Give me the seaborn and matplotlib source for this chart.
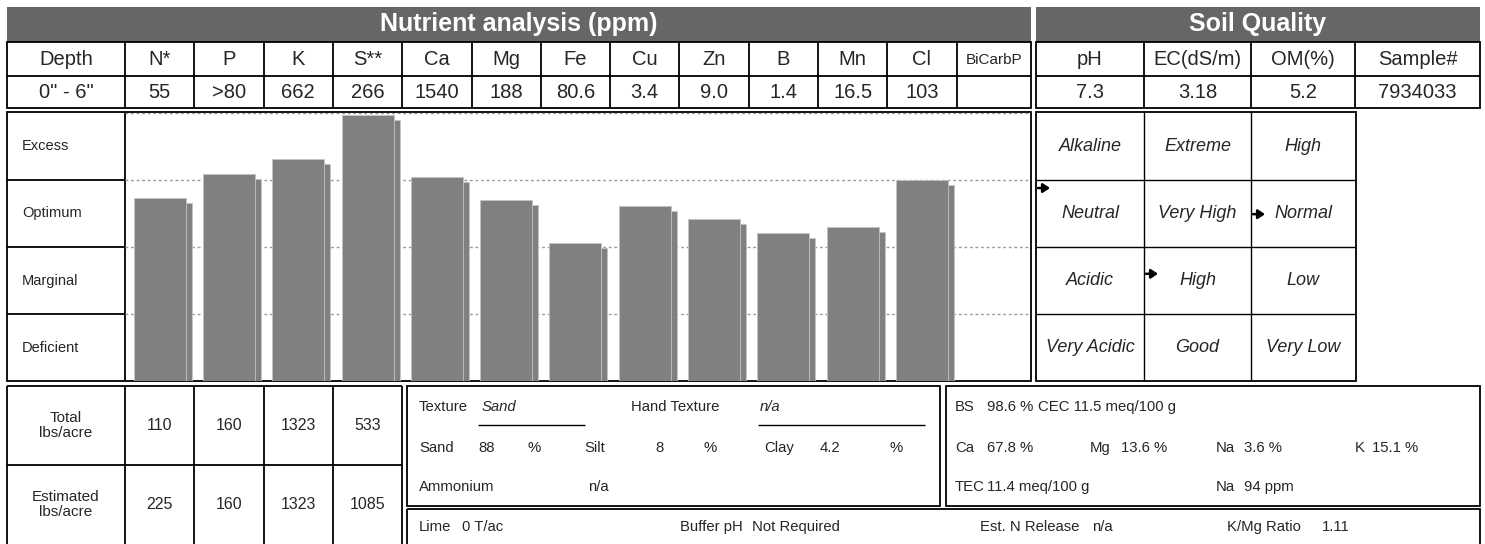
import numpy as np
import pandas as pd
import seaborn as sns
import matplotlib
matplotlib.use("Agg")
import matplotlib.pyplot as plt
from matplotlib.patches import Rectangle

# ---- data ----
nutrients = ["N*", "P", "K", "S**", "Ca", "Mg", "Fe", "Cu", "Zn", "B", "Mn", "Cl"]
ppm_values = ["55", ">80", "662", "266", "1540", "188", "80.6", "3.4", "9.0", "1.4", "16.5", "103"]
depth = '0" - 6"'
# bar height in rating units: 0-1 Deficient, 1-2 Marginal, 2-3 Optimum, 3-4 Excess
rating_levels = [2.73, 3.09, 3.31, 3.97, 3.04, 2.70, 2.06, 2.61, 2.42, 2.21, 2.30, 3.00]
rating_bands = ["Deficient", "Marginal", "Optimum", "Excess"]

soil_headers = ["pH", "EC(dS/m)", "OM(%)", "Sample#"]
soil_values = ["7.3", "3.18", "5.2", "7934033"]
ph_scale = ["Very Acidic", "Acidic", "Neutral", "Alkaline"]
ec_scale = ["Good", "High", "Very High", "Extreme"]
om_scale = ["Very Low", "Low", "Normal", "High"]
arrow_levels = [2.88, 1.60, 2.49]  # pH, EC, OM pointers

lbs_labels = ["Total\nlbs/acre", "Estimated\nlbs/acre"]
total_lbs = ["110", "160", "1323", "533"]
estimated_lbs = ["225", "160", "1323", "1085"]

texture = "Sand"
hand_texture = "n/a"
sand_pct, silt_pct, clay_pct = "88", "8", "4.2"
ammonium = "n/a"
lime, buffer_ph, n_release, kmg_ratio = "0 T/ac", "Not Required", "n/a", "1.11"
bs, cec, tec = "98.6 %", "11.5 meq/100 g", "11.4 meq/100 g"
ca_pct, mg_pct, na_pct, k_pct = "67.8 %", "13.6 %", "3.6 %", "15.1 %"
na_ppm = "94 ppm"

# ---- layout (pixels) ----
W, H = 1485, 544
BAND = 67.0
CH_TOP, CH_BOT = 381 - 4 * BAND, 381
COLW = 69.3
col_x = [7, 125] + [125 + COLW * k for k in range(1, 13)] + [1031]
soil_x = [1036, 1144, 1251, 1355, 1480]
GRAY = "#666666"
BAR = "#808080"
SMALL = 10.7

sns.set_style("white")
plt.rcParams["font.family"] = ["Liberation Sans", "DejaVu Sans"]

fig = plt.figure(figsize=(W / 100, H / 100), dpi=100)
bg = fig.add_axes([0, 0, 1, 1])
bg.set_xlim(0, W)
bg.set_ylim(H, 0)
bg.set_axis_off()


def hline(x0, x1, y, lw=1.3, **kw):
    bg.plot([x0, x1], [y, y], color=kw.pop("color", "black"), lw=lw, solid_capstyle="butt", **kw)


def vline(x, y0, y1, lw=1.3, **kw):
    bg.plot([x, x], [y0, y1], color=kw.pop("color", "black"), lw=lw, solid_capstyle="butt", **kw)


def box(x0, y0, x1, y1, lw=1.3):
    bg.add_patch(Rectangle((x0, y0), x1 - x0, y1 - y0, fill=False, ec="black", lw=lw))


def put(x, y, s, size=14.5, ha="center", **kw):
    bg.text(x, y, s, fontsize=size, ha=ha, va="center", **kw)


# header bands
bg.add_patch(Rectangle((7, 7), 1031 - 7, 35, color=GRAY, lw=0))
bg.add_patch(Rectangle((1036, 7), 1480 - 1036, 35, color=GRAY, lw=0))
put(519, 24.5, "Nutrient analysis (ppm)", size=18, color="white", fontweight="bold")
put(1258, 24.5, "Soil Quality", size=18, color="white", fontweight="bold")

# nutrient header table
box(7, 42, 1031, 108)
hline(7, 1031, 76)
for x in col_x[1:-1]:
    vline(x, 42, 108)
heads = ["Depth"] + nutrients + ["BiCarbP"]
vals = [depth] + ppm_values + [""]
for i, (h, v) in enumerate(zip(heads, vals)):
    cx = (col_x[i] + col_x[i + 1]) / 2
    put(cx, 59.5, h, size=11 if h == "BiCarbP" else 14.5)
    put(cx, 92.5, v)

# soil header table
box(1036, 42, 1480, 108)
hline(1036, 1480, 76)
for x in soil_x[1:-1]:
    vline(x, 42, 108)
for i, (h, v) in enumerate(zip(soil_headers, soil_values)):
    cx = (soil_x[i] + soil_x[i + 1]) / 2
    put(cx, 59.5, h)
    put(cx, 92.5, v)

# rating label column + chart frame
box(7, CH_TOP - 1, 1031, CH_BOT)
vline(125, CH_TOP - 1, CH_BOT)
for k, name in enumerate(rating_bands):
    yc = CH_BOT - (k + 0.5) * BAND
    put(22, yc, name, size=10.5, ha="left")
    if k > 0:
        hline(7, 125, CH_BOT - k * BAND)

# soil quality scale grid
box(1036, CH_TOP - 1, 1356, CH_BOT)
for x in soil_x[1:3]:
    vline(x, CH_TOP - 1, CH_BOT, lw=1.0)
for k in range(1, 4):
    hline(1036, 1356, CH_BOT - k * BAND, lw=1.0)
for j, scale in enumerate([ph_scale, ec_scale, om_scale]):
    cx = (soil_x[j] + soil_x[j + 1]) / 2
    for k, name in enumerate(scale):
        put(cx, CH_BOT - (k + 0.5) * BAND, name, size=13, style="italic")
    ya = CH_BOT - arrow_levels[j] * BAND
    bg.annotate("", xy=(soil_x[j] + 14, ya), xytext=(soil_x[j] + 2, ya),
                arrowprops=dict(arrowstyle="-|>,head_length=0.45,head_width=0.3",
                                color="black", lw=1.8, mutation_scale=9,
                                shrinkA=0, shrinkB=0))

# bar chart on its own axes
ax = fig.add_axes([125 / W, 1 - CH_BOT / H, 906 / W, 4 * BAND / H])
df = pd.DataFrame({"nutrient": nutrients, "level": rating_levels})
for lvl in [1, 2, 3, 4]:
    ax.axhline(lvl, color="#9a9a9a", lw=1.0, ls=(0, (2, 2)), zorder=1)
sns.barplot(data=df, x="nutrient", y="level", order=nutrients, color=BAR,
            saturation=1, width=0.75, errorbar=None, ax=ax, zorder=3,
            edgecolor="#c4c4c4", linewidth=0.6)
pos = np.arange(len(nutrients))
ax.bar(pos + 6 / COLW, df["level"] - 5 / BAND, width=0.75, color=BAR,
       edgecolor="#c4c4c4", linewidth=0.6, zorder=2)
ax.set_xlim(-0.5, 11.5 + (1031 - col_x[13]) / COLW)
ax.set_ylim(0, 4)
ax.set_axis_off()

# bottom-left lbs/acre table
LB_TOP, LB_MID = 386, 465
for x in [7] + col_x[1:6]:
    vline(x, LB_TOP, H)
hline(7, col_x[5], LB_TOP)
hline(7, col_x[5], LB_MID)
rows_y = [(LB_TOP + LB_MID) / 2, (LB_MID + H) / 2]
for r, (lab, nums) in enumerate(zip(lbs_labels, [total_lbs, estimated_lbs])):
    put(66, rows_y[r], lab, size=11, linespacing=1.15)
    for i, n in enumerate(nums):
        put((col_x[i + 1] + col_x[i + 2]) / 2, rows_y[r], n, size=11.5)

# texture box
box(407, LB_TOP, 940, 506)
r1, r2, r3 = 407, 448, 487
put(419, r1, "Texture", size=SMALL, ha="left")
put(482, r1, texture, size=SMALL, ha="left", style="italic")
hline(478, 585, 425, lw=1.0)
put(631, r1, "Hand Texture", size=SMALL, ha="left")
put(760, r1, hand_texture, size=SMALL, ha="left", style="italic")
hline(758, 925, 425, lw=1.0)
for x, s in [(419, "Sand"), (478, sand_pct), (528, "%"), (584, "Silt"), (655, silt_pct),
             (704, "%"), (764, "Clay"), (820, clay_pct), (889, "%")]:
    put(x, r2, s, size=SMALL, ha="left")
put(419, r3, "Ammonium", size=SMALL, ha="left")
put(588, r3, ammonium, size=SMALL, ha="left")

# exchange box
box(946, LB_TOP, 1480, 506)
for x, s in [(955, "BS"), (987, bs), (1038, "CEC " + cec)]:
    put(x, r1, s, size=SMALL, ha="left")
for x, s in [(955, "Ca"), (987, ca_pct), (1090, "Mg"), (1121, mg_pct),
             (1216, "Na"), (1244, na_pct), (1355, "K"), (1372, k_pct)]:
    put(x, r2, s, size=SMALL, ha="left")
for x, s in [(955, "TEC"), (987, tec), (1216, "Na"), (1244, na_ppm)]:
    put(x, r3, s, size=SMALL, ha="left")

# bottom strip
box(407, 509, 1480, H + 2)
rl = 527
for x, s in [(419, "Lime"), (462, lime), (680, "Buffer pH"), (752, buffer_ph),
             (980, "Est. N Release"), (1092, n_release), (1227, "K/Mg Ratio"), (1322, kmg_ratio)]:
    put(x, rl, s, size=SMALL, ha="left")

fig.savefig("out.png", dpi=100, facecolor="white")
